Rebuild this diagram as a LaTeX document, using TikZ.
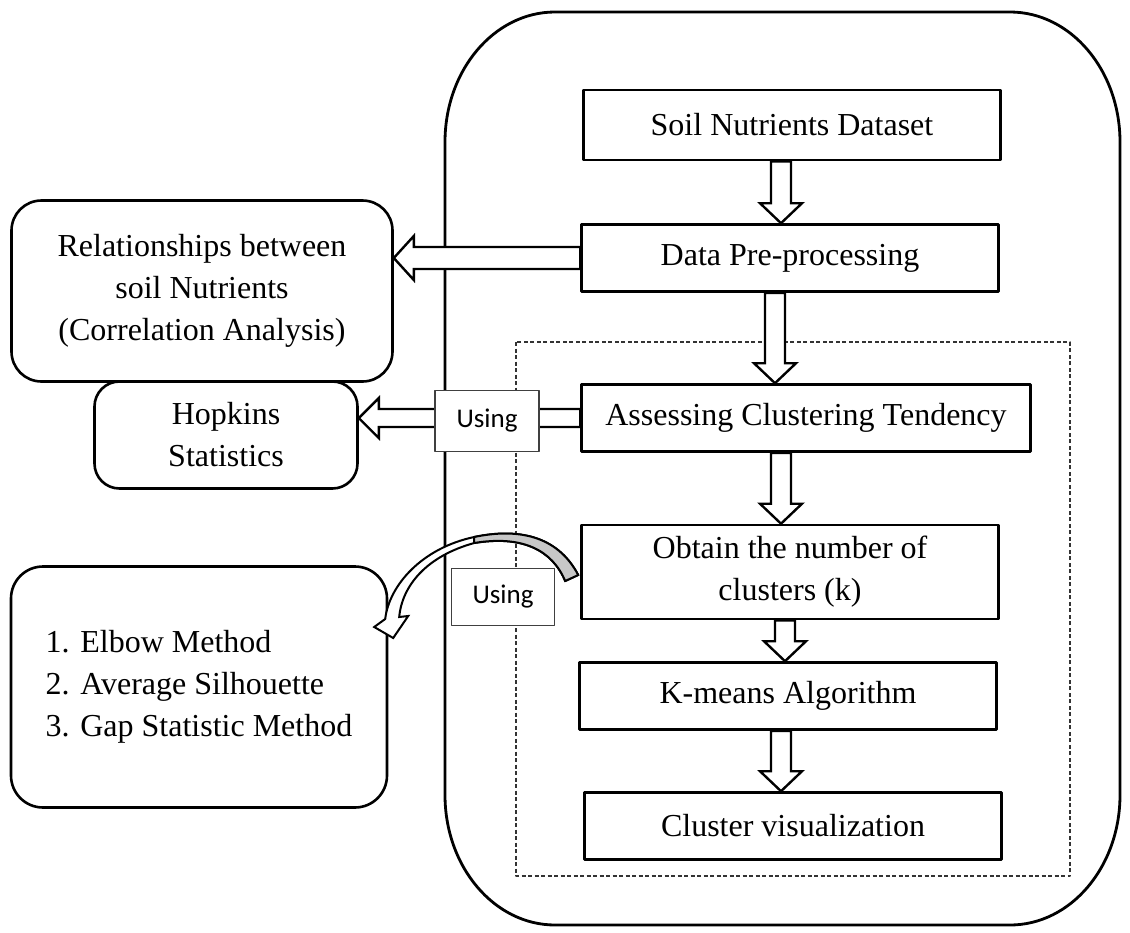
\documentclass[tikz,border=0pt]{standalone}
\usepackage{fontspec}
\setmainfont{Liberation Serif}
\newfontfamily\usingfont{Carlito}
\usetikzlibrary{calc}
\tikzset{
	flowbox/.style={draw, line width=2.6pt, fill=white, minimum width=417pt, minimum height=67pt, inner sep=0pt, align=center},
	sidebox/.style={draw, line width=2.6pt, rounded corners=30pt, inner sep=0pt},
	usingbox/.style={draw=black!75, line width=1.3pt, fill=white, minimum width=103pt, inner sep=0pt, font=\usingfont\fontsize{27}{32}\selectfont},
	blockarrow/.style={draw, line width=2.4pt, fill=white, line join=miter},
}
% hollow block arrows between named nodes
\newcommand{\downblock}[3]{%
	\draw[blockarrow] let \p1=([xshift=#3]#1.south), \p2=(#2.north) in
	(\x1-10pt,\y1) -- (\x1-10pt,\y2+20pt) -- (\x1-21pt,\y2+20pt) -- (\x1,\y2)
	-- (\x1+21pt,\y2+20pt) -- (\x1+10pt,\y2+20pt) -- (\x1+10pt,\y1) -- cycle;}
\newcommand{\leftblock}[4]{% from, to, half shaft, half head
	\draw[blockarrow] let \p1=(#1.west), \p2=(#2.east) in
	(\x1,\y1+#3) -- (\x2+20pt,\y1+#3) -- (\x2+20pt,\y1+#4) -- (\x2,\y1)
	-- (\x2+20pt,\y1-#4) -- (\x2+20pt,\y1-#3) -- (\x1,\y1-#3) -- cycle;}
\begin{document}
\begin{tikzpicture}[x=1pt,y=-1pt,font=\fontsize{32}{42}\selectfont, line join=round]
	\useasboundingbox (0,0) rectangle (1130,932);
	%	frames
	\draw[line width=2.8pt] (555,12) -- (1010,12) arc[start angle=270,end angle=360,x radius=110,y radius=130]
	-- (1120,795) arc[start angle=0,end angle=90,x radius=110,y radius=130]
	-- (555,925) arc[start angle=90,end angle=180,x radius=110,y radius=130]
	-- (445,142) arc[start angle=180,end angle=270,x radius=110,y radius=130] -- cycle;
	\draw[black!80, line width=1.1pt, dash pattern=on 4pt off 2.5pt] (516,342) rectangle (1070,876);
	%	main flow
	\node (soil) at (792,125) [flowbox, minimum height=70pt] {Soil Nutrients Dataset};
	\node (data) at (790,258) [flowbox] {Data Pre-processing};
	\node (assess) at (806,418) [flowbox, minimum width=449pt] {Assessing Clustering Tendency};
	\node (obtain) at (790,572) [flowbox, minimum height=94pt] {Obtain the number of\\clusters (k)};
	\node (kmeans) at (788,696) [flowbox] {K-means Algorithm};
	\node (cluster) at (793,826) [flowbox] {Cluster visualization};
	%	side boxes
	\node (rel) at (202,291) [sidebox, minimum width=381pt, minimum height=181pt, align=center] {Relationships between\\soil Nutrients\\(Correlation Analysis)};
	\node (hop) at (226,435) [sidebox, rounded corners=25pt, minimum width=263pt, minimum height=107pt, align=center] {Hopkins\\Statistics};
	\node (elbow) at (199,687) [sidebox, rounded corners=32pt, minimum width=376pt, minimum height=241pt, align=left] {1. Elbow Method\\2. Average Silhouette\\3. Gap Statistic Method};
	%	arrows
	\downblock{soil}{data}{-11pt}
	\downblock{data}{assess}{-15pt}
	\downblock{assess}{obtain}{-25pt}
	\downblock{obtain}{kmeans}{-5pt}
	\downblock{kmeans}{cluster}{-7pt}
	\leftblock{data}{rel}{11pt}{22pt}
	\leftblock{assess}{hop}{9pt}{20pt}
	\node (using1) at (487,421) [usingbox, minimum width=104pt, minimum height=61pt] {Using};
	\node (using2) at (503,597) [usingbox, minimum height=57pt] {Using};
	%	curved arrow obtain -> elbow
	\begin{scope}[shift={(obtain.west)}]
		\draw[line width=2pt, fill=white, line join=miter] (-2,3) .. controls (-23,-37) and (-63,-44) .. (-106,-35)
		.. controls (-158,-24) and (-191,13) .. (-195,47) -- (-206,55) -- (-187,66) -- (-172,44) -- (-181,45)
		.. controls (-178,13) and (-153,-16) .. (-106,-29)
		.. controls (-58,-37) and (-28,-22) .. (-15,9) -- cycle;
		\draw[line width=2pt, fill=black!22] (-2,3) .. controls (-23,-37) and (-63,-44) .. (-106,-35)
		-- (-106,-29) .. controls (-58,-37) and (-28,-22) .. (-15,9) -- cycle;
	\end{scope}
\end{tikzpicture}
\end{document}
